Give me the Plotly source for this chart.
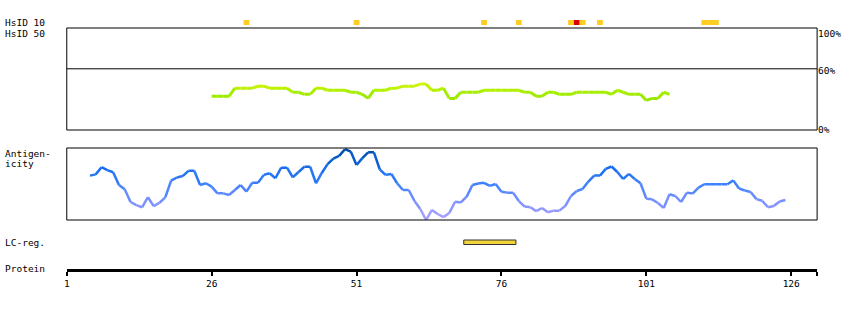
import plotly.graph_objects as go

# ---------------- data ----------------
protein_length = 130
axis_ticks = [1, 26, 51, 76, 101, 126]

hsid10_residues = [32, 51, 73, 79, 88, 89, 90, 93, 111, 112, 113]
hsid10_levels = ["mid", "mid", "mid", "mid", "mid", "high", "mid", "mid", "mid", "mid", "mid"]

hsid50_start = 26
hsid50_values = [33, 33, 33, 33, 41, 41, 41, 41, 43, 43,
                 41, 41, 41, 41, 37, 37, 35, 35, 41, 41,
                 39, 39, 39, 39, 37, 37, 35, 31, 39, 39,
                 39, 41, 41, 43, 43, 43, 45, 45, 39, 39,
                 41, 31, 31, 37, 37, 37, 37, 39, 39, 39,
                 39, 39, 39, 39, 37, 37, 33, 33, 37, 37,
                 35, 35, 35, 37, 37, 37, 37, 37, 37, 35,
                 39, 37, 35, 35, 35, 29, 31, 31, 37, 35]

antigen_start = 5
antigen_values = [0.35, 0.40, 0.70, 0.58, 0.49, -0.04, -0.22, -0.75, -0.88, -0.97,
                  -0.55, -0.92, -0.78, -0.56, 0.14, 0.27, 0.33, 0.55, 0.55, -0.04,
                  0.03, -0.11, -0.39, -0.39, -0.46, -0.25, -0.04, -0.32, 0.05, 0.05,
                  0.38, 0.45, 0.24, 0.68, 0.68, 0.28, 0.50, 0.72, 0.72, 0.03,
                  0.46, 0.83, 1.06, 1.17, 1.45, 1.35, 0.79, 1.08, 1.32, 1.32,
                  0.61, 0.38, 0.42, 0.03, -0.25, -0.25, -0.71, -1.04, -1.50, -1.08,
                  -1.25, -1.38, -1.21, -0.74, -0.77, -0.53, -0.04, 0.02, 0.05, -0.08,
                  0.00, -0.32, -0.36, -0.36, -0.71, -0.94, -0.97, -1.13, -1.00, -1.18,
                  -1.11, -1.11, -0.92, -0.50, -0.29, -0.21, 0.10, 0.35, 0.35, 0.63,
                  0.73, 0.50, 0.21, 0.42, 0.21, 0.03, -0.61, -0.64, -0.79, -1.00,
                  -0.43, -0.50, -0.75, -0.36, -0.40, -0.15, -0.01, -0.01, -0.01, -0.01,
                  -0.01, 0.15, -0.19, -0.27, -0.33, -0.63, -0.70, -0.97, -0.92, -0.73,
                  -0.67]

lc_regions = [(70, 78)]

row_labels = ["HsID 10", "HsID 50", "Antigen-", "icity", "LC-reg.", "Protein"]
pct_labels = ["100%", "60%", "0%"]
pct_values = [100, 60, 0]

# ---------------- helpers ----------------
W, H = 850, 310
X0, X1 = 64, 817
PX_PER_RES = 5.816
x_max = 1 + (X1 - X0) / PX_PER_RES


def py(p):
    return (H - p) / H


def lerp_color(stops, v):
    if v <= stops[0][0]:
        c = stops[0][1]
    elif v >= stops[-1][0]:
        c = stops[-1][1]
    else:
        for (a, ca), (b, cb) in zip(stops, stops[1:]):
            if a <= v <= b:
                t = (v - a) / (b - a)
                c = tuple(ca[i] + t * (cb[i] - ca[i]) for i in range(3))
                break
    return "rgb(%d,%d,%d)" % tuple(int(round(x)) for x in c)


green_stops = [(29, (150, 230, 0)), (37, (165, 238, 0)), (45, (210, 245, 0))]
blue_stops = [(-1.5, (180, 165, 255)), (-1.0, (140, 150, 255)), (-0.5, (105, 140, 255)),
              (0.0, (60, 128, 255)), (0.6, (25, 110, 240)), (1.1, (5, 90, 200)), (1.5, (0, 70, 160))]

fig = go.Figure()

# HsID 50 line (colored segments)
hx = [hsid50_start + i for i in range(len(hsid50_values))]
for i in range(len(hsid50_values) - 1):
    v = (hsid50_values[i] + hsid50_values[i + 1]) / 2
    fig.add_trace(go.Scatter(x=hx[i:i + 2], y=hsid50_values[i:i + 2], mode="lines",
                             line=dict(color=lerp_color(green_stops, v), width=3),
                             xaxis="x", yaxis="y2", hoverinfo="skip", showlegend=False))

# Antigenicity line
ax_ = [antigen_start + i for i in range(len(antigen_values))]
for i in range(len(antigen_values) - 1):
    v = (antigen_values[i] + antigen_values[i + 1]) / 2
    fig.add_trace(go.Scatter(x=ax_[i:i + 2], y=antigen_values[i:i + 2], mode="lines",
                             line=dict(color=lerp_color(blue_stops, v), width=2.5),
                             xaxis="x", yaxis="y3", hoverinfo="skip", showlegend=False))

shapes = []
# HsID 10 marks
for r, lev in zip(hsid10_residues, hsid10_levels):
    shapes.append(dict(type="rect", xref="x", yref="paper", x0=r - 0.5, x1=r + 0.5,
                       y0=py(25), y1=py(20), line=dict(width=0),
                       fillcolor="#dd0000" if lev == "high" else "#ffcc22"))
# boxes
for yr in ["y2", "y3"]:
    shapes.append(dict(type="rect", xref="x domain", yref=yr + " domain", x0=0, x1=1, y0=0, y1=1,
                       line=dict(color="black", width=1)))
shapes.append(dict(type="line", xref="x domain", yref="y2", x0=0, x1=1, y0=60, y1=60,
                   line=dict(color="black", width=1)))
# LC regions
for s, e in lc_regions:
    shapes.append(dict(type="rect", xref="x", yref="paper", x0=s - 0.5, x1=e + 0.5,
                       y0=py(244.5), y1=py(240), line=dict(color="#333333", width=1),
                       fillcolor="#f2d43a"))
fig.update_layout(shapes=shapes)

font = dict(family="DejaVu Sans Mono", size=9.5, color="black")
label_y = [22.5, 33, 153.5, 163.5, 242, 268]
annotations = []
for t, yy in zip(row_labels, label_y):
    annotations.append(dict(text=t, xref="paper", yref="paper", x=0, y=py(yy),
                            xanchor="left", yanchor="middle", showarrow=False, font=font))
pct_pix = [33, 71, 129.5]
for t, yy in zip(pct_labels, pct_pix):
    annotations.append(dict(text=t, xref="paper", yref="paper", x=816 / W, y=py(yy),
                            xanchor="left", yanchor="middle", showarrow=False, font=font))
fig.update_layout(annotations=annotations)

fig.update_layout(
    width=W, height=H, autosize=False,
    margin=dict(l=0, r=0, t=0, b=0),
    paper_bgcolor="white", plot_bgcolor="white",
    showlegend=False,
    xaxis=dict(domain=[X0 / W, X1 / W], range=[1, x_max], anchor="free", position=py(269.5),
               showline=True, linecolor="black", linewidth=3,
               ticks="outside", ticklen=4, tickwidth=2, tickcolor="black",
               tickvals=axis_ticks + [x_max], ticktext=[str(t) for t in axis_ticks] + [""],
               tickfont=font, showgrid=False, zeroline=False, fixedrange=True),
    yaxis2=dict(domain=[py(130), py(28)], range=[0, 100], anchor="x", visible=False,
                showgrid=False, zeroline=False),
    yaxis3=dict(domain=[py(220), py(148)], range=[-1.5, 1.5], anchor="x", visible=False,
                showgrid=False, zeroline=False),
)

fig.write_html("out.html")
